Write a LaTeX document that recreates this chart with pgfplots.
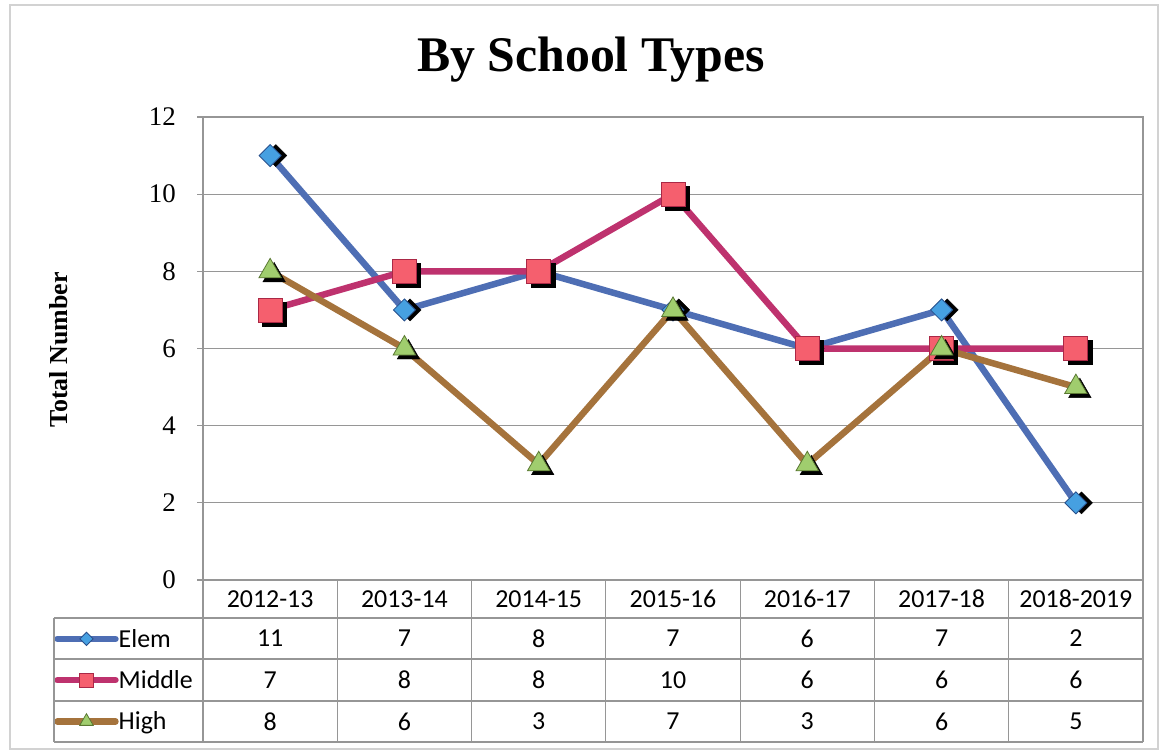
\documentclass[border=0pt]{standalone}
\usepackage{pgfplots}
\pgfplotsset{compat=1.18}
\usepackage{fontspec}
\setmainfont{Liberation Serif}
\newfontfamily\calibri{Carlito}
\definecolor{elemline}{RGB}{78,110,180}
\definecolor{elemfill}{RGB}{70,160,225}
\definecolor{elemdraw}{RGB}{40,80,140}
\definecolor{midline}{RGB}{190,50,110}
\definecolor{midfill}{RGB}{245,95,110}
\definecolor{middraw}{RGB}{170,40,70}
\definecolor{highline}{RGB}{165,115,60}
\definecolor{highfill}{RGB}{160,205,110}
\definecolor{highdraw}{RGB}{90,120,50}
\definecolor{gridc}{RGB}{150,150,150}
\begin{document}
\begin{tikzpicture}[x=1bp,y=1bp]
\path (0,0) rectangle (1164,-751);
\draw[gray!35, line width=1.2bp] (10,-5) rectangle (1158,-749);
\begin{axis}[
  at={(203bp,-580bp)}, anchor=south west, scale only axis,
  width=940bp, height=463bp,
  xmin=-0.5, xmax=6.5, ymin=0, ymax=12,
  xtick=\empty, ytick={0,2,4,6,8,10,12},
  ytick pos=left, tick align=outside, major tick length=6bp,
  ymajorgrids, grid style={gridc, line width=1.2bp},
  axis line style={gridc, line width=1.2bp},
  tick style={gridc, line width=1.2bp},
  /pgf/number format/assume math mode=true,
  yticklabel style={font=\fontsize{27}{27}\selectfont, anchor=east, inner sep=0pt, xshift=-21bp},
  clip=false,
  legend style={at={(axis description cs:-0.1585,-0.0821)}, anchor=north west,
    draw=none, fill=none, inner sep=0pt, row sep=0pt, column sep=0bp,
    font=\calibri\fontsize{26}{26}\selectfont,
    nodes={inner sep=0pt, minimum height=41.3bp}},
  legend cell align=left,
  legend image code/.code={\draw[mark repeat=2,mark phase=2,#1,line cap=round,every mark/.append style={scale=0.6}] plot coordinates {(0bp,0bp) (29bp,0bp) (58bp,0bp)};},
]
% Elem
\addplot[forget plot, only marks, mark=square*, mark size=7.8bp, black,
  mark options={rotate=45, xshift=4bp, yshift=-4bp}] coordinates {(0,11) (1,7) (2,8) (3,7) (4,6) (5,7) (6,2)};
\addplot[elemline, line width=6.5bp, mark=square*, mark size=7.8bp,
  mark options={rotate=45, fill=elemfill, draw=elemdraw, line width=0.8bp}] coordinates {(0,11) (1,7) (2,8) (3,7) (4,6) (5,7) (6,2)};
\addlegendentry{Elem}
% Middle
\addplot[forget plot, only marks, mark=square*, mark size=12bp, black,
  mark options={xshift=4bp, yshift=-4bp}] coordinates {(0,7) (1,8) (2,8) (3,10) (4,6) (5,6) (6,6)};
\addplot[midline, line width=6.5bp, mark=square*, mark size=12bp,
  mark options={fill=midfill, draw=middraw, line width=0.8bp}] coordinates {(0,7) (1,8) (2,8) (3,10) (4,6) (5,6) (6,6)};
\addlegendentry{Middle}
% High
\addplot[forget plot, only marks, mark=triangle*, mark size=13bp, black,
  mark options={xshift=4bp, yshift=-4bp}] coordinates {(0,8) (1,6) (2,3) (3,7) (4,3) (5,6) (6,5)};
\addplot[highline, line width=6.5bp, mark=triangle*, mark size=13bp,
  mark options={fill=highfill, draw=highdraw, line width=0.8bp}] coordinates {(0,8) (1,6) (2,3) (3,7) (4,3) (5,6) (6,5)};
\addlegendentry{High}
\end{axis}
% data table grid
\begin{scope}[gridc, line width=1.2bp]
\foreach \y in {-618,-659,-701,-742} \draw (54,\y) -- (1143,\y);
\draw (54,-618) -- (54,-742);
\foreach \i in {0,...,7} \draw ({203+134.286*\i},-580) -- ({203+134.286*\i},-742);
\end{scope}
\begin{scope}[font=\calibri\fontsize{26}{26}\selectfont]
\foreach \i/\t in {0/2012-13,1/2013-14,2/2014-15,3/2015-16,4/2016-17,5/2017-18,6/2018-2019}
  \node at ({270.14+134.286*\i},-599) {\t};
\foreach \i/\v in {0/11,1/7,2/8,3/7,4/6,5/7,6/2}
  \node at ({270.14+134.286*\i},-638.5) {\v};
\foreach \i/\v in {0/7,1/8,2/8,3/10,4/6,5/6,6/6}
  \node at ({270.14+134.286*\i},-680) {\v};
\foreach \i/\v in {0/8,1/6,2/3,3/7,4/3,5/6,6/5}
  \node at ({270.14+134.286*\i},-721.5) {\v};
\end{scope}
\node[rotate=90, font=\fontsize{26}{26}\selectfont\bfseries] at (59,-350) {Total Number};
\node[anchor=base, font=\fontsize{50}{50}\selectfont\bfseries] at (591,-72) {By School Types};
\end{tikzpicture}
\end{document}
